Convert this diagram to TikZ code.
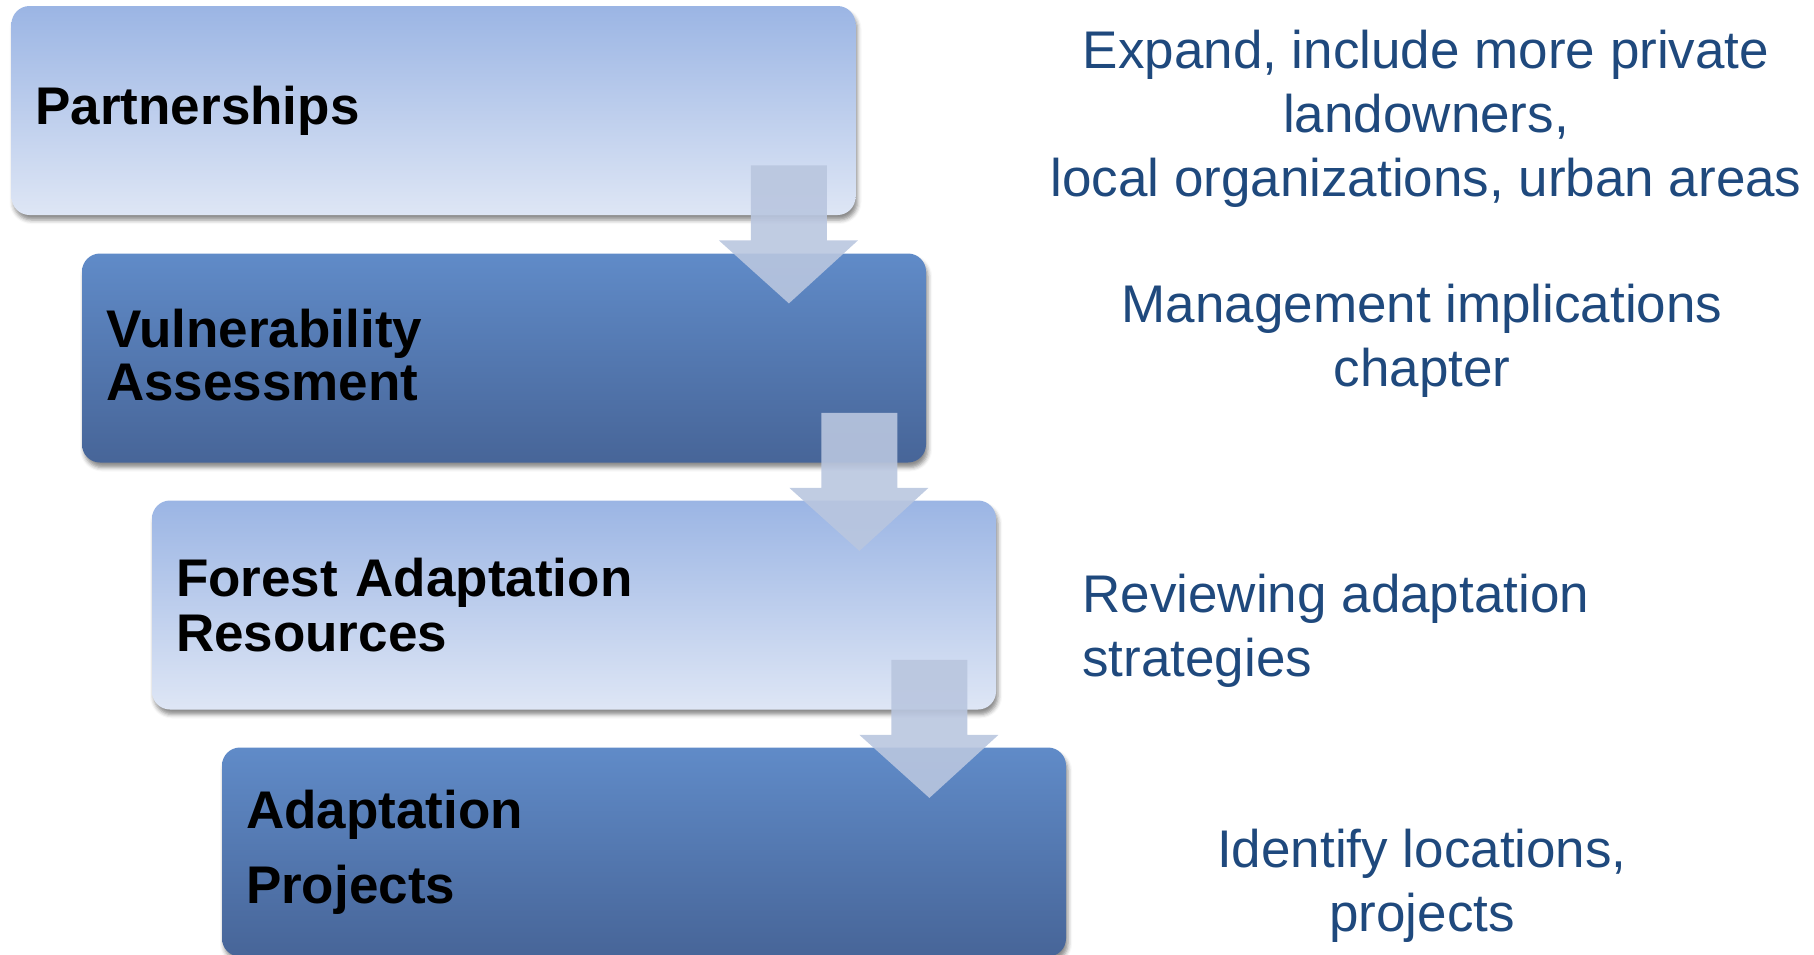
\documentclass[tikz,border=0pt]{standalone}
\usepackage{fontspec}
\setmainfont{Liberation Sans}
\usetikzlibrary{shadows.blur,calc}
\definecolor{lighttop}{RGB}{155,181,228}
\definecolor{lightbot}{RGB}{222,230,245}
\definecolor{darktop}{RGB}{96,139,200}
\definecolor{darkbot}{RGB}{71,101,152}
\definecolor{arrowfill}{RGB}{185,198,223}
\definecolor{notetext}{RGB}{31,73,125}
\tikzset{
 stagebox/.style={rounded corners=9pt, minimum width=422pt, minimum height=104.5pt, text width=398pt, inner xsep=12pt, inner ysep=0pt, align=left, font=\fontsize{26.5}{26.5}\selectfont\bfseries, blur shadow={shadow xshift=1pt, shadow yshift=-2.5pt, shadow blur radius=2pt, shadow opacity=45}},
 lightbox/.style={stagebox, top color=lighttop, bottom color=lightbot},
 darkbox/.style={stagebox, top color=darktop, bottom color=darkbot},
 flowarrow/.style={fill=arrowfill, fill opacity=0.9, draw=none},
 note/.style={text=notetext, font=\fontsize{26.5}{32}\selectfont, inner sep=0pt},
}
\begin{document}
\begin{tikzpicture}[x=0.5pt,y=-0.5pt]
\useasboundingbox (0,0) rectangle (1814,954);
\node[lightbox] (b1) at (433.5,110.5) {Partnerships};
\node[darkbox] (b2) at (504,358) {Vulnerability\\Assessment\vspace{3pt}};
\node[lightbox] (b3) at (574,605) {Forest Adaptation\\[1pt]Resources};
\node[darkbox] (b4) at (644,852) {Adaptation\\[11pt]Projects};
\foreach \u/\l in {b1/b2, b2/b3, b3/b4}{
  \path[flowarrow] ($(\u.south east)+(-105,-50)$) -- ++(76,0) -- ++(0,75) -- ++(31,0)
    -- ($(\u.south east)+(-67,88)$) -- ($(\u.south east)+(-137,25)$) -- ++(32,0) -- cycle;
}
\node[note, align=center, anchor=base] (n1) at (1426,196) {Expand, include more private\\landowners,\\local organizations, urban areas};
\node[note, align=center, anchor=base] (n2) at (1422,386) {Management implications\\chapter};
\node[note, align=left, anchor=base west] (n3) at (1082,676) {Reviewing adaptation\\strategies};
\node[note, align=center, anchor=base] (n4) at (1422,931) {Identify locations,\\projects};
\end{tikzpicture}
\end{document}
